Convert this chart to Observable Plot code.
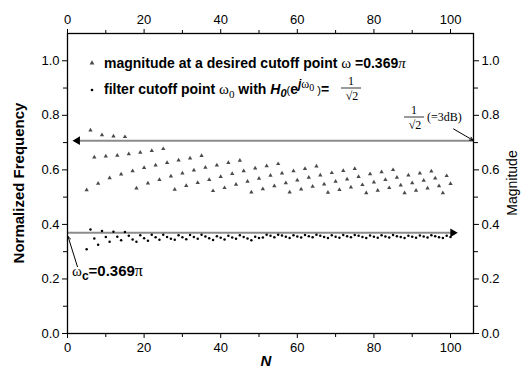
<!DOCTYPE html>
<html><head><meta charset="utf-8">
<script src="https://cdn.jsdelivr.net/npm/d3@7"></script>
<script src="https://cdn.jsdelivr.net/npm/@observablehq/plot@0.6"></script>
<style>
html,body{margin:0;padding:0;background:#fff;}
#chart svg{display:block;}
</style>
</head><body><div id="chart"></div>
<script>
// Filter length N
const N = [5,6,7,8,9,10,11,12,13,14,15,16,17,18,19,20,21,22,23,24,25,26,27,28,29,30,
  31,32,33,34,35,36,37,38,39,40,41,42,43,44,45,46,47,48,49,50,51,52,53,54,55,56,57,58,59,60,
  61,62,63,64,65,66,67,68,69,70,71,72,73,74,75,76,77,78,79,80,81,82,83,84,85,86,87,88,89,90,
  91,92,93,94,95,96,97,98,99,100];
// magnitude at the desired cutoff point ω = 0.369π (triangles)
const magnitude = [0.526,0.745,0.646,0.550,0.728,0.650,0.570,0.723,0.653,0.584,0.721,0.658,0.596,0.533,0.664,0.608,
  0.551,0.670,0.617,0.564,0.677,0.626,0.577,0.528,0.635,0.588,0.542,0.643,0.599,0.553,0.652,0.609,0.564,0.523,
  0.617,0.575,0.534,0.626,0.586,0.546,0.634,0.596,0.557,0.518,0.606,0.568,0.530,0.614,0.579,0.541,0.622,0.588,
  0.552,0.518,0.596,0.562,0.529,0.604,0.572,0.539,0.613,0.580,0.547,0.517,0.589,0.557,0.527,0.597,0.566,0.536,
  0.604,0.575,0.545,0.515,0.585,0.555,0.524,0.592,0.564,0.534,0.600,0.572,0.544,0.515,0.580,0.552,0.524,0.588,
  0.561,0.533,0.595,0.569,0.541,0.515,0.578,0.549];
// filter cutoff point ω0 with H0 = 1/√2 (dots)
const cutoff = [0.309,0.381,0.348,0.325,0.376,0.354,0.336,0.373,0.355,0.342,0.372,0.358,0.345,0.336,0.360,0.349,
  0.340,0.362,0.353,0.344,0.362,0.354,0.347,0.344,0.360,0.353,0.346,0.361,0.354,0.347,0.362,0.356,0.349,0.343,
  0.357,0.351,0.345,0.358,0.352,0.347,0.360,0.354,0.348,0.342,0.355,0.350,0.352,0.362,0.358,0.353,0.362,0.359,
  0.355,0.350,0.360,0.356,0.352,0.361,0.357,0.353,0.362,0.358,0.354,0.350,0.360,0.355,0.351,0.361,0.357,0.353,
  0.361,0.358,0.354,0.350,0.359,0.355,0.351,0.360,0.356,0.352,0.361,0.357,0.354,0.350,0.358,0.355,0.351,0.359,
  0.356,0.352,0.360,0.357,0.353,0.350,0.358,0.354];
const xTicks = [0,20,40,60,80,100];
const xMinor = [10,30,50,70,90];
const yTicks = [0.0,0.2,0.4,0.6,0.8,1.0];
const yMinor = [0.1,0.3,0.5,0.7,0.9];
const halfPower = 0.707;   // 1/√2 (-3dB)
const wc = 0.369;          // desired cutoff 0.369π

const tri = N.map((n,i)=>({n, v: magnitude[i]}));
const dts = N.map((n,i)=>({n, v: cutoff[i]}));
const sans = "'Liberation Sans', Arial, sans-serif";
const serif = "'Liberation Serif', 'Times New Roman', serif";

const fmt = d3.format(".1f");
const plot = Plot.plot({
  width:523, height:372, marginLeft:67, marginRight:50, marginTop:33, marginBottom:39,
  style:{fontFamily:sans, fontSize:"13px", color:"#000", background:"#fff", overflow:"visible"},
  x:{domain:[0,106]}, y:{domain:[0,1.1]},
  marks:[
    Plot.axisX({anchor:"bottom", ticks:xTicks, tickSize:5, tickPadding:4, label:null}),
    Plot.axisX({anchor:"bottom", ticks:xMinor, tickSize:4, tickFormat:()=>"", label:null}),
    Plot.axisX({anchor:"top", ticks:xTicks, tickSize:5, tickPadding:5, label:null}),
    Plot.axisX({anchor:"top", ticks:xMinor, tickSize:4, tickFormat:()=>"", label:null}),
    Plot.axisY({anchor:"left", ticks:yTicks, tickSize:5, tickPadding:3, tickFormat:fmt, label:null}),
    Plot.axisY({anchor:"left", ticks:yMinor, tickSize:4, tickFormat:()=>"", label:null}),
    Plot.axisY({anchor:"right", ticks:yTicks, tickSize:5, tickPadding:3, tickFormat:fmt, label:null}),
    Plot.axisY({anchor:"right", ticks:yMinor, tickSize:4, tickFormat:()=>"", label:null}),
    // reference lines
    Plot.link([{x1:106, x2:3.2, y:halfPower}], {x1:"x1", x2:"x2", y1:"y", y2:"y", stroke:"#8c8c8c", strokeWidth:2}),
    Plot.dot([{x:2.6, y:halfPower}], {x:"x", y:"y", symbol:"triangle", rotate:-90, r:3.2, fill:"#000", stroke:"none"}),
    Plot.link([{x1:0, x2:100.2, y:wc}], {x1:"x1", x2:"x2", y1:"y", y2:"y", stroke:"#8c8c8c", strokeWidth:2}),
    Plot.dot([{x:100.6, y:wc}], {x:"x", y:"y", symbol:"triangle", rotate:90, r:3.2, fill:"#000", stroke:"none"}),
    // annotation arrows
    Plot.arrow([{x1:2.6, y1:0.245, x2:0.15, y2:0.355}], {x1:"x1", y1:"y1", x2:"x2", y2:"y2", stroke:"#000", strokeWidth:1, headLength:5}),
    Plot.arrow([{x1:100.8, y1:0.75, x2:105.8, y2:0.709}], {x1:"x1", y1:"y1", x2:"x2", y2:"y2", stroke:"#000", strokeWidth:1, headLength:5}),
    // data
    Plot.dot(tri, {x:"n", y:"v", symbol:"triangle", r:1.6, fill:"#4a4a4a", stroke:"none"}),
    Plot.dot(dts, {x:"n", y:"v", r:1.25, fill:"#000", stroke:"none"}),
    Plot.frame({stroke:"#000", strokeWidth:1.3})
  ]
});
document.getElementById("chart").appendChild(plot);

const svg = d3.select(plot);
// axis titles
svg.append("text").attr("transform","translate(24,183) rotate(-90)").attr("text-anchor","middle")
  .attr("font-family",sans).attr("font-weight","bold").attr("font-size",15).attr("fill","#000")
  .text("Normalized Frequency");
svg.append("text").attr("transform","translate(517,183) rotate(-90)").attr("text-anchor","middle")
  .attr("font-family",sans).attr("font-size",14).attr("fill","#000").text("Magnitude");
svg.append("text").attr("x",266).attr("y",366).attr("text-anchor","middle")
  .attr("font-family",sans).attr("font-weight","bold").attr("font-style","italic").attr("font-size",15)
  .attr("fill","#000").text("N");

// legend markers
const lx = 92;
svg.append("path").attr("d", d3.symbol(d3.symbolTriangle, 10)()).attr("transform",`translate(${lx},63)`).attr("fill","#4a4a4a");
svg.append("circle").attr("cx",lx).attr("cy",90).attr("r",1.3).attr("fill","#000");

function span(t, txt, o={}){
  const s = t.append("tspan").text(txt).attr("font-family", o.serif?serif:sans);
  if(o.bold) s.attr("font-weight","bold");
  if(o.italic) s.attr("font-style","italic");
  if(o.size) s.attr("font-size",o.size);
  if(o.dy) s.attr("dy",o.dy);
  return s;
}
const t1 = svg.append("text").attr("x",104).attr("y",68).attr("text-anchor","start").attr("font-size",14).attr("fill","#000");
span(t1,"magnitude at a desired cutoff point ",{bold:true});
span(t1,"ω",{serif:true,size:15});
span(t1," =0.369",{bold:true});
span(t1,"π",{serif:true,italic:true,size:15});

const t2 = svg.append("text").attr("x",104).attr("y",94).attr("text-anchor","start").attr("font-size",14).attr("fill","#000");
span(t2,"filter cutoff point ",{bold:true});
span(t2,"ω",{serif:true,size:15});
span(t2,"0",{serif:true,size:11,dy:4});
span(t2," with ",{bold:true,dy:-4});
span(t2,"H",{bold:true,italic:true});
span(t2,"0",{bold:true,italic:true,size:11,dy:3});
span(t2,"(",{size:11,dy:-3});
span(t2,"e",{bold:true});
span(t2,"j",{bold:true,italic:true,size:12,dy:-6});
span(t2,"ω",{serif:true,size:12});
span(t2,"0",{serif:true,size:10,dy:3});
span(t2," )",{size:11,dy:3});
span(t2,"= ",{bold:true});
const bb = t2.node().getBBox();
const fx = bb.x + bb.width + 18;
function fraction(cx, yNum, size){
  svg.append("text").attr("x",cx).attr("y",yNum).attr("text-anchor","middle").attr("font-family",serif)
    .attr("font-size",size).attr("fill","#000").text("1");
  svg.append("line").attr("x1",cx-10).attr("x2",cx+10).attr("y1",yNum+3).attr("y2",yNum+3).attr("stroke","#000").attr("stroke-width",0.8);
  svg.append("text").attr("x",cx+1).attr("y",yNum+15).attr("text-anchor","middle").attr("font-family",serif)
    .attr("font-size",size).attr("fill","#000").text("√2");
}
fraction(fx, 85, 12);
fraction(414, 114, 12);
svg.append("text").attr("x",427).attr("y",121).attr("text-anchor","start").attr("font-family",serif).attr("font-size",12).attr("fill","#000").text("(=3dB)");

// ωc label
const t3 = svg.append("text").attr("x",72).attr("y",276).attr("text-anchor","start").attr("font-size",15).attr("fill","#000");
span(t3,"ω",{serif:true,size:15});
span(t3,"c",{bold:true,size:12,dy:4});
span(t3,"=0.369",{bold:true,size:15,dy:-4});
span(t3,"π",{serif:true,size:16});
</script>
</body></html>
